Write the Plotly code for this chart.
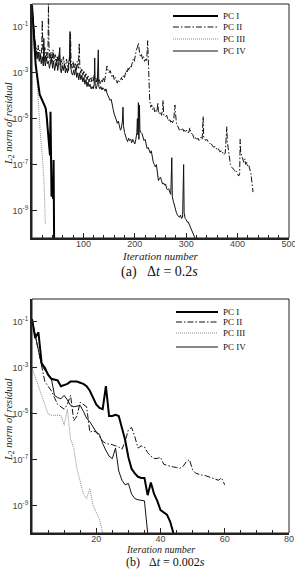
import plotly.graph_objects as go

W, H = 295, 570

# ---------------- data: (a) dt = 0.2 s  (values are log10 of L2 residual) ----------------
pc1_a_it = list(range(0, 44))
pc1_a_exp = [-0.05, -0.5, -0.9, -1.25, -1.7, -2.1, -2.4, -2.6, -2.8, -3.0, -3.1, -3.3, -3.4, -3.6,
             -3.8, -3.95, -4.0, -4.05, -4.1, -4.1, -4.15, -4.2, -4.3, -4.35, -4.4, -4.45, -4.5, -4.6,
             -4.75, -5.0, -5.3, -5.5, -5.7, -6.0, -6.3, -6.6, -4.7, -7.0, -8.4, -7.6, -8.3, -8.5,
             -6.8, -10.2]

pc3_a_it = [0, 3, 5, 7, 9, 11, 13, 15, 17, 19, 21, 23, 24, 25, 26]
pc3_a_exp = [-0.05, -1.0, -1.6, -2.1, -2.9, -3.7, -4.5, -5.3, -5.9, -6.3, -6.8, -7.6, -8.2, -8.9, -9.6]

pc2_a_it = [0, 2, 4, 6, 8, 10, 12, 13, 15, 17, 19, 20, 21, 23, 25, 27, 29, 31, 32, 33, 35, 37, 39,
            41, 43, 45, 47, 49, 51, 53, 55, 57, 59, 61, 63, 65, 67, 69, 71, 73, 75, 76, 78, 80, 82,
            84, 86, 88, 90, 92, 93, 95, 97, 99, 101, 103, 105, 107, 109, 111, 113, 115, 117, 119,
            121, 123, 125, 127, 129, 131, 133, 135, 137, 139, 141, 143, 145, 146, 148, 150, 152,
            154, 156, 158, 160, 162, 164, 166, 168, 170, 172, 174, 176, 178, 180, 181, 183, 185,
            187, 189, 191, 193, 195, 197, 199, 201, 203, 205, 207, 209, 211, 213, 215, 217, 219,
            221, 223, 225, 226, 227, 229, 231, 233, 235, 237, 239, 241, 243, 245, 246, 248, 250,
            252, 254, 255, 256, 258, 260, 262, 264, 266, 268, 270, 272, 274, 276, 278, 279, 281,
            283, 285, 287, 289, 291, 293, 295, 297, 299, 301, 303, 305, 307, 309, 311, 313, 315,
            317, 319, 321, 323, 325, 327, 329, 331, 333, 334, 336, 338, 340, 342, 344, 346, 348,
            350, 352, 354, 356, 358, 360, 362, 364, 366, 368, 370, 372, 374, 376, 378, 379, 380,
            382, 384, 386, 388, 390, 392, 394, 396, 398, 400, 402, 404, 405, 406, 408, 410, 412,
            414, 416, 418, 420, 422, 424, 426, 428, 430]
pc2_a_exp = [-0.05, -0.7, -1.2, -1.6, -1.9, -2.2, -1.8, -2.3, -2.0, -2.4, -1.9, -0.7, -2.0, -2.4,
             -1.9, -2.5, -2.1, -2.4, 0.0, -1.8, -2.5, -2.1, -2.6, -2.0, -2.5, -2.2, -2.7, -2.3,
             -2.6, -2.1, -2.7, -2.4, -2.8, -2.3, -2.6, -2.8, -2.4, -2.7, -2.9, -2.4, -1.3, -2.5,
             -2.8, -2.5, -2.9, -2.6, -2.9, -2.5, -2.8, -1.7, -2.7, -3.0, -2.8, -3.1, -2.9, -3.2,
             -3.0, -3.3, -3.1, -3.4, -3.2, -3.4, -3.2, -3.4, -3.1, -3.3, -3.4, -3.2, -3.4, -3.3,
             -3.5, -3.3, -3.4, -3.2, -3.4, -3.1, -2.8, -2.7, -2.9, -3.0, -2.9, -3.1, -3.2, -3.1,
             -3.3, -3.2, -3.4, -3.45, -3.3, -3.4, -3.35, -3.2, -3.3, -3.1, -3.2, -3.1, -2.9, -3.0,
             -2.8, -2.9, -2.7, -2.75, -2.6, -2.4, -2.5, -2.2, -2.0, -1.9, -1.7, -2.1, -2.3, -2.2,
             -2.4, -2.3, -2.5, -2.4, -2.5, -1.6, -2.4, -3.6, -4.2, -4.5, -4.4, -4.6, -4.5, -4.7,
             -4.6, -4.7, -4.3, -4.7, -4.8, -4.7, -4.85, -4.6, -4.2, -4.8, -4.9, -4.9, -4.85, -5.0,
             -5.1, -5.0, -5.15, -5.1, -5.2, -5.0, -4.4, -4.7, -5.2, -5.3, -5.4, -5.5, -5.45, -5.5,
             -5.4, -5.55, -5.5, -5.6, -5.5, -5.6, -5.6, -5.4, -5.6, -5.65, -5.7, -5.85, -5.9,
             -5.8, -5.9, -5.85, -5.95, -5.9, -5.8, -5.9, -4.9, -5.8, -5.85, -5.95, -5.9, -6.0,
             -6.05, -6.1, -6.05, -6.15, -6.2, -6.25, -6.2, -6.3, -6.35, -6.3, -6.4, -6.45, -6.4,
             -6.5, -6.45, -6.55, -6.5, -5.7, -5.35, -6.0, -6.4, -6.8, -7.0, -7.1, -7.15, -7.2,
             -7.25, -7.35, -7.3, -7.4, -7.5, -7.4, -5.9, -6.5, -6.6, -6.8, -6.9, -6.75, -7.0, -6.9,
             -7.1, -7.05, -7.2, -7.4, -7.8, -8.2]

pc4_a_it = [0, 2, 4, 6, 8, 10, 12, 14, 16, 18, 20, 22, 23, 24, 26, 28, 30, 32, 34, 36, 38, 40, 42,
            44, 46, 48, 50, 52, 54, 55, 57, 59, 61, 63, 65, 67, 69, 71, 73, 74, 75, 77, 79, 81, 83,
            85, 87, 89, 91, 93, 95, 97, 99, 101, 103, 105, 107, 109, 111, 113, 115, 117, 119, 121,
            122, 123, 125, 127, 129, 130, 132, 134, 136, 138, 140, 142, 144, 146, 148, 150, 152,
            154, 156, 158, 160, 162, 164, 166, 168, 170, 172, 174, 176, 177, 178, 180, 182, 184,
            186, 188, 190, 192, 194, 196, 198, 200, 202, 204, 205, 206, 207, 208, 209, 210, 212,
            214, 216, 218, 220, 222, 224, 226, 228, 230, 232, 234, 236, 238, 240, 242, 244, 246,
            248, 250, 252, 254, 256, 258, 260, 262, 264, 266, 268, 270, 272, 273, 275, 277, 279,
            281, 283, 285, 287, 289, 291, 293, 295, 296, 298, 300, 302, 304, 306, 308, 310, 312,
            314, 317]
pc4_a_exp = [-0.05, -0.8, -1.3, -1.7, -2.0, -2.4, -2.1, -2.5, -2.2, -2.6, -2.3, -2.7, -1.5, -2.4,
             -2.7, -2.3, -2.6, -2.5, -2.8, -2.5, -2.3, -2.8, -2.5, -2.9, -2.6, -2.4, -2.9, -2.6,
             -1.9, -2.8, -3.0, -2.7, -2.9, -2.6, -3.0, -2.8, -3.0, -2.7, -2.3, -1.2, -2.7, -3.0,
             -3.1, -2.9, -3.1, -2.8, -3.2, -3.0, -3.3, -3.0, -3.3, -3.1, -3.4, -3.2, -3.5, -3.3,
             -3.6, -3.4, -3.6, -3.5, -3.7, -3.6, -3.7, -3.5, -2.35, -3.6, -3.7, -3.5, -2.0, -3.6,
             -3.7, -3.6, -3.75, -3.65, -3.7, -3.8, -3.7, -3.9, -4.0, -4.1, -4.2, -4.15, -4.5, -4.6,
             -4.8, -4.9, -5.05, -5.2, -5.1, -5.3, -5.5, -5.4, -5.1, -4.5, -5.3, -5.6, -5.8, -5.9,
             -6.0, -5.85, -5.95, -5.9, -6.05, -5.9, -6.0, -6.1, -5.9, -5.6, -5.0, -5.7, -4.3, -5.9,
             -4.4, -5.5, -5.6, -5.65, -5.8, -5.95, -5.9, -6.1, -6.3, -6.25, -6.4, -6.5, -6.4, -6.7,
             -6.9, -7.0, -7.1, -7.0, -7.3, -7.7, -7.6, -7.55, -7.7, -7.85, -7.8, -7.9, -7.85,
             -8.05, -8.1, -8.05, -8.2, -8.3, -6.7, -8.4, -8.6, -8.8, -9.0, -9.1, -9.2, -9.25, -9.3,
             -9.2, -9.35, -9.3, -7.0, -9.1, -9.35, -9.4, -9.5, -9.5, -9.6, -9.7, -9.8, -9.9, -10.0,
             -10.2]

# ---------------- data: (b) dt = 0.002 s ----------------
pc1_b_it = list(range(0, 45))
pc1_b_exp = [-0.87, -1.7, -1.45, -2.8, -3.0, -3.3, -3.48, -3.5, -3.55, -3.8, -3.75, -3.7, -3.6,
             -3.6, -3.6, -3.65, -3.7, -3.8, -4.0, -4.3, -4.6, -4.75, -4.8, -3.8, -5.1, -5.1, -5.05,
             -5.1, -5.6, -6.15, -6.9, -7.4, -7.6, -7.75, -7.8, -7.8, -8.55, -8.0, -8.5, -8.8, -9.2,
             -9.3, -9.4, -9.7, -10.2]

pc2_b_it = list(range(0, 61))
pc2_b_exp = [-0.9, -1.6, -2.2, -2.9, -3.6, -3.8, -4.0, -4.3, -4.6, -4.7, -4.8, -4.6, -4.2, -5.3,
             -5.1, -4.5, -4.6, -4.7, -5.8, -5.75, -5.8, -6.0, -6.2, -6.3, -6.32, -6.35, -6.4,
             -6.45, -6.55, -6.2, -5.7, -5.6, -6.0, -6.5, -6.4, -6.45, -6.7, -6.85, -6.95, -6.95,
             -6.9, -7.2, -7.25, -7.3, -7.32, -7.35, -7.38, -7.3, -7.1, -7.0, -7.45, -7.6, -7.65,
             -7.68, -7.7, -7.75, -7.8, -7.85, -7.9, -7.8, -8.1]

pc3_b_it = list(range(0, 23))
pc3_b_exp = [-3.0, -3.4, -3.8, -4.2, -4.6, -5.0, -5.07, -5.07, -5.07, -5.07, -5.5, -4.8, -6.1,
             -6.5, -7.4, -8.0, -8.5, -8.7, -8.26, -9.0, -9.3, -9.6, -10.2]

pc4_b_it = list(range(0, 37))
pc4_b_exp = [-0.9, -1.6, -2.2, -2.9, -3.1, -3.3, -3.45, -4.2, -4.3, -4.35, -4.2, -4.4, -4.64,
             -4.7, -4.68, -4.64, -4.9, -5.2, -5.35, -5.6, -5.8, -5.9, -6.3, -6.6, -6.85, -6.96,
             -6.5, -7.5, -7.9, -8.1, -8.04, -8.5, -8.7, -8.75, -8.77, -8.8, -10.2]

names = ["PC I", "PC II", "PC III", "PC IV"]
x_ticks_a = [100, 200, 300, 400, 500]
x_ticks_b = [20, 40, 60, 80]
y_tickvals = [1e-1, 1e-3, 1e-5, 1e-7, 1e-9]
y_ticktext = ["10<sup>-1</sup>", "10<sup>-3</sup>", "10<sup>-5</sup>", "10<sup>-7</sup>", "10<sup>-9</sup>"]

# ---------------- styles ----------------
styles = {
    "PC I": dict(color="#000000", width=2.0, dash="solid"),
    "PC II": dict(color="#111111", width=1.0, dash="6px,2px,1.5px,2px"),
    "PC III": dict(color="#8a8a8a", width=1.0, dash="1px,1px"),
    "PC IV": dict(color="#111111", width=1.0, dash="solid"),
}

series_a = {"PC I": (pc1_a_it, pc1_a_exp), "PC II": (pc2_a_it, pc2_a_exp),
            "PC III": (pc3_a_it, pc3_a_exp), "PC IV": (pc4_a_it, pc4_a_exp)}
series_b = {"PC I": (pc1_b_it, pc1_b_exp), "PC II": (pc2_b_it, pc2_b_exp),
            "PC III": (pc3_b_it, pc3_b_exp), "PC IV": (pc4_b_it, pc4_b_exp)}

fig = go.Figure()
draw_order = ["PC III", "PC II", "PC IV", "PC I"]
for nm in draw_order:
    it, ex = series_a[nm]
    fig.add_trace(go.Scatter(x=it, y=[10 ** e for e in ex], mode="lines", name=nm,
                             line=styles[nm], xaxis="x", yaxis="y", showlegend=False))
for nm in draw_order:
    it, ex = series_b[nm]
    fig.add_trace(go.Scatter(x=it, y=[10 ** e for e in ex], mode="lines", name=nm,
                             line=styles[nm], xaxis="x2", yaxis="y2", showlegend=False))


def px(x):
    return x / W


def py(y):
    return 1 - y / H


tickfont = dict(family="Liberation Sans, Arial", size=9, color="#444444")
xdom = [px(32), px(289)]

common_x = dict(domain=xdom, showgrid=False, zeroline=False, showline=True, linewidth=2,
                linecolor="#222222", ticks="inside", ticklen=5, tickwidth=1, tickcolor="#222222",
                tickfont=tickfont, automargin=False, ticklabeloverflow="allow",
                ticklabelstandoff=-4)
common_y = dict(type="log", range=[-10.2, 0], showgrid=False, zeroline=False, showline=True,
                linewidth=2, linecolor="#222222", ticks="inside", ticklen=5, tickwidth=1,
                tickcolor="#222222", tickvals=y_tickvals, ticktext=y_ticktext, tickfont=tickfont,
                automargin=False, ticklabeloverflow="allow")

fig.update_layout(
    width=W, height=H, margin=dict(l=0, r=0, t=0, b=0),
    paper_bgcolor="white", plot_bgcolor="white", showlegend=False,
    xaxis=dict(common_x, anchor="y", range=[0, 500], tickvals=x_ticks_a,
               minor=dict(tick0=0, dtick=20, ticks="inside", ticklen=3, tickcolor="#222222")),
    yaxis=dict(common_y, anchor="x", domain=[py(238), py(4)]),
    xaxis2=dict(common_x, anchor="y2", range=[0, 80], tickvals=x_ticks_b,
                minor=dict(tick0=0, dtick=5, ticks="inside", ticklen=3, tickcolor="#222222")),
    yaxis2=dict(common_y, anchor="x2", domain=[py(533), py(299)]),
)

shapes = []
for xr, yr in (("x", "y"), ("x2", "y2")):
    shapes.append(dict(type="rect", xref=xr + " domain", yref=yr + " domain", x0=0, x1=1, y0=0, y1=1,
                       line=dict(color="#222222", width=1), layer="above"))

serif = "Liberation Serif, Times New Roman, serif"
annotations = []

# legends (key lines + labels)
legend_rows = {"a": [16, 27, 39, 51], "b": [312, 322, 333, 347]}
legend_x = {"a": (173, 218), "b": (176, 218)}
for key in ("a", "b"):
    x0, x1 = legend_x[key]
    for nm, yy in zip(names, legend_rows[key]):
        st = styles[nm]
        shapes.append(dict(type="line", xref="paper", yref="paper", x0=px(x0), x1=px(x1),
                           y0=py(yy), y1=py(yy), line=dict(color=st["color"], width=st["width"],
                                                           dash=st["dash"])))
        annotations.append(dict(text=nm, x=px(x1 + 3), y=py(yy), xref="paper", yref="paper",
                                xanchor="left", yanchor="middle", showarrow=False,
                                font=dict(family=serif, size=9, color="#111111")))

# axis titles and captions
annotations.append(dict(text="<i>Iteration number</i>", x=px(160), y=py(256), xref="paper",
                        yref="paper", xanchor="center", yanchor="middle", showarrow=False,
                        font=dict(family=serif, size=11, color="#222222")))
annotations.append(dict(text="<i>Iteration number</i>", x=px(160), y=py(549), xref="paper",
                        yref="paper", xanchor="center", yanchor="middle", showarrow=False,
                        font=dict(family=serif, size=10, color="#222222")))
for yy in (124, 420):
    annotations.append(dict(text="<i>L</i><sub>2</sub><i> norm of residual</i>", x=px(9), y=py(yy),
                            xref="paper", yref="paper", xanchor="center", yanchor="middle",
                            textangle=-90, showarrow=False,
                            font=dict(family=serif, size=10.5, color="#222222")))
annotations.append(dict(text="(a)\u00a0\u00a0\u00a0\u0394<i>t</i> = 0.2<i>s</i>", x=px(159), y=py(272),
                        xref="paper", yref="paper", xanchor="center", yanchor="middle",
                        showarrow=False, font=dict(family=serif, size=14, color="#111111")))
annotations.append(dict(text="(b)\u00a0\u00a0\u00a0\u0394<i>t</i> = 0.002<i>s</i>", x=px(165), y=0,
                        xref="paper", yref="paper", xanchor="center", yanchor="bottom",
                        borderpad=0, showarrow=False,
                        font=dict(family=serif, size=12, color="#111111")))

fig.update_layout(shapes=shapes, annotations=annotations)
fig.write_html("out.html")
